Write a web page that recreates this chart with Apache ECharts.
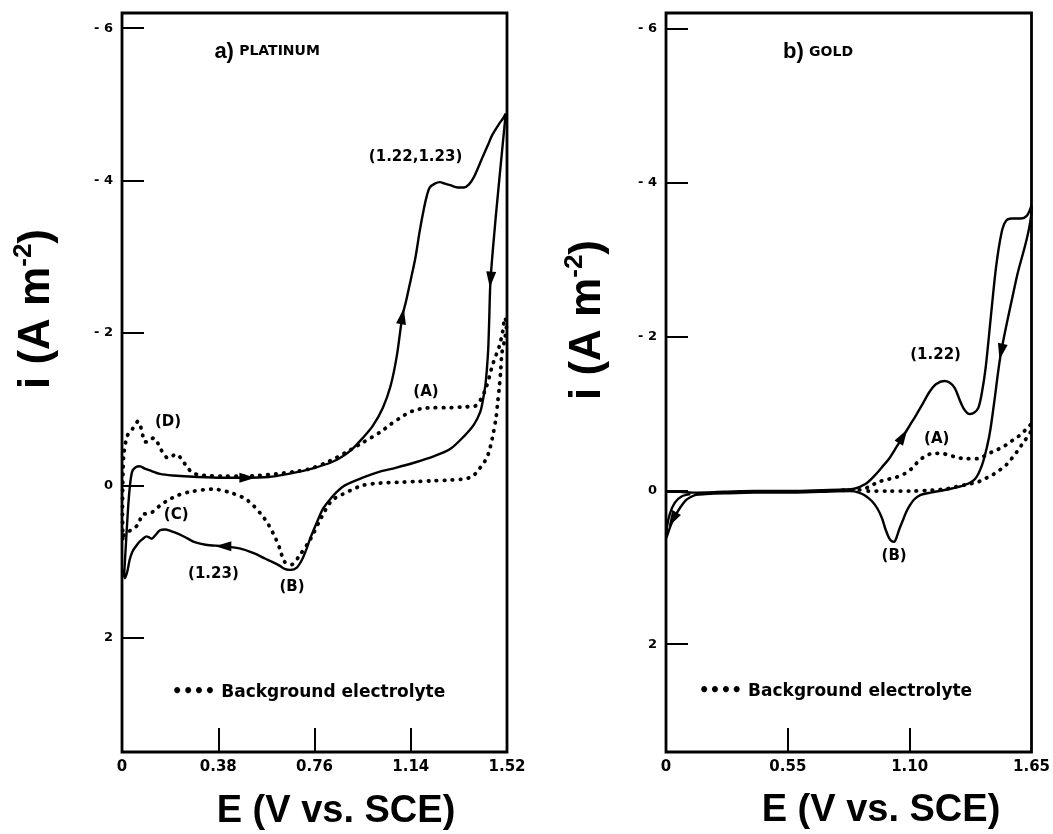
<!DOCTYPE html>
<html>
<head>
<meta charset="utf-8">
<script src="https://cdn.jsdelivr.net/npm/echarts@6/dist/echarts.min.js"></script>
<style>html,body{margin:0;background:#fff}#main{width:1053px;height:834px}</style>
</head>
<body>
<div id="main"></div>
<script>
// a) platinum, [E (V vs SCE), i (A m-2)]
var ptSolid = [
  [0.008,1.20],[0.015,0.80],[0.022,0.40],[0.030,0.05],[0.040,-0.18],[0.055,-0.24],[0.070,-0.25],[0.090,-0.22],
  [0.115,-0.19],[0.150,-0.15],[0.200,-0.13],[0.300,-0.11],[0.400,-0.10],[0.495,-0.10],[0.580,-0.11],[0.640,-0.14],
  [0.700,-0.18],[0.750,-0.22],[0.825,-0.30],[0.870,-0.38],[0.910,-0.48],[0.950,-0.62],[0.990,-0.78],[1.030,-1.02],
  [1.060,-1.30],[1.085,-1.70],[1.107,-2.22],[1.123,-2.44],[1.140,-2.70],[1.158,-2.98],[1.175,-3.33],[1.193,-3.65],
  [1.205,-3.82],[1.215,-3.91],[1.235,-3.96],[1.255,-3.98],[1.275,-3.96],[1.296,-3.94],[1.325,-3.91],[1.350,-3.91],
  [1.370,-3.95],[1.390,-4.05],[1.420,-4.28],[1.445,-4.47],[1.462,-4.60],[1.490,-4.75],[1.505,-4.82],[1.515,-4.88],
  [1.495,-4.20],[1.475,-3.50],[1.455,-2.70],[1.450,-2.20],[1.446,-1.80],[1.440,-1.50],[1.434,-1.30],[1.425,-1.12],
  [1.414,-0.96],[1.390,-0.80],[1.352,-0.65],[1.297,-0.48],[1.230,-0.38],[1.156,-0.30],[1.080,-0.23],[1.018,-0.18],
  [0.950,-0.10],[0.880,0.00],[0.850,0.08],[0.825,0.17],[0.795,0.30],[0.770,0.48],[0.745,0.68],[0.729,0.83],
  [0.710,0.98],[0.690,1.08],[0.667,1.11],[0.645,1.10],[0.620,1.05],[0.590,1.00],[0.564,0.96],[0.520,0.89],
  [0.468,0.83],[0.400,0.80],[0.330,0.78],[0.290,0.75],[0.260,0.70],[0.225,0.64],[0.193,0.60],[0.170,0.58],
  [0.150,0.59],[0.130,0.66],[0.117,0.70],[0.105,0.68],[0.097,0.67],[0.083,0.70],[0.069,0.74],[0.055,0.80],
  [0.041,0.87],[0.030,0.98],[0.021,1.13],[0.011,1.22],[0.005,1.10]
];
var ptBackground = [
  [0.003,0.70],[0.002,0.30],[0.004,-0.20],[0.008,-0.43],[0.021,-0.65],[0.041,-0.74],[0.055,-0.80],[0.062,-0.84],
  [0.070,-0.80],[0.078,-0.72],[0.090,-0.57],[0.100,-0.57],[0.110,-0.60],[0.125,-0.62],[0.131,-0.61],[0.142,-0.55],
  [0.152,-0.48],[0.168,-0.40],[0.180,-0.36],[0.196,-0.38],[0.214,-0.41],[0.234,-0.35],[0.255,-0.25],[0.276,-0.17],
  [0.300,-0.14],[0.330,-0.13],[0.400,-0.12],[0.469,-0.12],[0.540,-0.13],[0.607,-0.15],[0.680,-0.18],[0.745,-0.22],
  [0.820,-0.32],[0.883,-0.43],[0.950,-0.56],[1.020,-0.70],[1.060,-0.80],[1.100,-0.89],[1.130,-0.95],[1.159,-0.99],
  [1.190,-1.01],[1.228,-1.02],[1.297,-1.02],[1.350,-1.03],[1.393,-1.04],[1.415,-1.12],[1.435,-1.26],[1.450,-1.42],
  [1.462,-1.57],[1.478,-1.72],[1.490,-1.83],[1.503,-2.02],[1.512,-2.20],
  [1.518,-2.10],[1.510,-1.90],[1.500,-1.74],[1.495,-1.50],[1.490,-1.30],[1.483,-1.08],[1.476,-0.87],[1.462,-0.62],
  [1.448,-0.43],[1.435,-0.33],[1.420,-0.26],[1.400,-0.17],[1.380,-0.11],[1.340,-0.08],[1.297,-0.07],[1.230,-0.06],
  [1.159,-0.05],[1.090,-0.04],[1.020,-0.03],[0.950,0.00],[0.900,0.07],[0.869,0.12],[0.828,0.20],[0.786,0.43],
  [0.745,0.70],[0.703,0.91],[0.669,1.04],[0.641,1.00],[0.623,0.83],[0.607,0.70],[0.579,0.52],[0.552,0.39],
  [0.497,0.20],[0.441,0.11],[0.359,0.05],[0.276,0.08],[0.221,0.13],[0.179,0.20],[0.152,0.26],[0.110,0.37],
  [0.083,0.38],[0.062,0.52],[0.034,0.59],[0.011,0.63],[0.003,0.70]
];
// b) gold
var auSolid = [
  [0.000,0.02],[0.060,0.02],[0.120,0.03],[0.260,0.02],[0.400,0.01],[0.571,0.01],[0.700,0.00],[0.800,-0.01],
  [0.850,-0.02],[0.900,-0.08],[0.945,-0.20],[0.975,-0.30],[1.007,-0.41],[1.040,-0.56],[1.070,-0.70],[1.100,-0.84],
  [1.130,-0.98],[1.160,-1.13],[1.190,-1.28],[1.220,-1.38],[1.256,-1.42],[1.280,-1.40],[1.303,-1.33],[1.325,-1.18],
  [1.342,-1.07],[1.358,-1.01],[1.373,-0.99],[1.392,-1.01],[1.410,-1.07],[1.425,-1.25],[1.443,-1.59],[1.466,-2.24],
  [1.490,-2.90],[1.515,-3.35],[1.535,-3.50],[1.560,-3.53],[1.600,-3.53],[1.630,-3.57],[1.650,-3.70],
  [1.650,-3.65],[1.582,-2.75],[1.513,-1.80],[1.482,-1.15],[1.465,-0.80],[1.451,-0.59],[1.427,-0.33],[1.396,-0.15],
  [1.350,-0.07],[1.270,-0.01],[1.194,0.03],[1.150,0.06],[1.120,0.12],[1.100,0.20],[1.085,0.28],[1.068,0.40],
  [1.054,0.50],[1.040,0.62],[1.030,0.67],[1.018,0.66],[1.007,0.62],[0.990,0.50],[0.976,0.37],[0.955,0.24],
  [0.929,0.14],[0.900,0.07],[0.870,0.03],[0.836,0.01],[0.700,0.02],[0.571,0.03],[0.400,0.03],[0.260,0.04],
  [0.180,0.05],[0.135,0.06],[0.110,0.09],[0.089,0.13],[0.065,0.22],[0.042,0.33],[0.025,0.43],[0.011,0.54],
  [0.002,0.62],[0.004,0.48],[0.018,0.30],[0.040,0.16],[0.070,0.08],[0.110,0.05]
];
var auBackground = [
  [0.800,0.00],[0.850,0.00],[0.883,-0.01],[0.920,-0.05],[0.960,-0.11],[1.000,-0.14],[1.040,-0.17],[1.080,-0.22],
  [1.116,-0.30],[1.140,-0.38],[1.163,-0.43],[1.190,-0.47],[1.210,-0.48],[1.240,-0.48],[1.273,-0.46],[1.310,-0.43],
  [1.350,-0.41],[1.410,-0.41],[1.440,-0.45],[1.474,-0.50],[1.505,-0.54],[1.536,-0.59],[1.570,-0.66],[1.600,-0.72],
  [1.625,-0.79],[1.645,-0.85],
  [1.645,-0.76],[1.615,-0.63],[1.584,-0.50],[1.560,-0.41],[1.536,-0.33],[1.505,-0.26],[1.474,-0.20],[1.440,-0.15],
  [1.410,-0.11],[1.350,-0.07],[1.300,-0.04],[1.270,-0.02],[1.200,0.00],[1.100,0.01],[1.000,0.01],[0.900,0.01]
];

var ptTicksX = [0, 0.38, 0.76, 1.14, 1.52];
var auTicksX = [0, 0.55, 1.10, 1.65];
var ticksY = [-6, -4, -2, 0, 2];

// sweep direction arrows [E, i] and their turn in degrees
var ptArrows = [[0.495,-0.10],[1.107,-2.22],[1.455,-2.70],[0.400,0.80]];
var ptArrowTurn = [-90, -10, 175, 90];
var auArrows = [[1.070,-0.70],[1.513,-1.80],[0.030,0.38]];
var auArrowTurn = [-32, 168, 150];

// annotations [text, E, i]
var ptNotes = [['(1.22,1.23)',1.159,-4.31],['(A)',1.200,-1.23],['(D)',0.182,-0.83],['(C)',0.214,0.39],['(1.23)',0.361,1.17],['(B)',0.671,1.34]];
var auNotes = [['(1.22)',1.217,-1.76],['(A)',1.222,-0.67],['(B)',1.030,0.86]];
var panelTitles = [['a)','PLATINUM',0.345,-5.69],['b)','GOLD',0.506,-5.69]];
var bgLabel = '•••• Background electrolyte';
var bgLabelPos = [[0.177,2.72],[0.125,2.62]];

var ink = '#000';
var labelFont = {color: ink, fontFamily: 'DejaVu Sans', fontWeight: 'bold', fontSize: 15};

function xAxisFor(idx, ticks) {
  return {
    type: 'value', gridIndex: idx, min: 0, max: ticks[ticks.length - 1],
    axisLine: {show: false, onZero: false}, splitLine: {show: false},
    axisTick: {inside: true, length: 24, lineStyle: {color: ink, width: 2}, customValues: ticks.slice(1, -1)},
    axisLabel: Object.assign({margin: 8, customValues: ticks, formatter: function (v) {
      return v === 0 ? '0' : v.toFixed(2);
    }}, labelFont)
  };
}
function yAxisFor(idx, max) {
  return {
    type: 'value', gridIndex: idx, inverse: true, min: -6.2, max: max,
    axisLine: {show: false, onZero: false}, splitLine: {show: false},
    axisTick: {inside: true, length: 22, lineStyle: {color: ink, width: 2}, customValues: ticksY},
    axisLabel: Object.assign({margin: 9, customValues: ticksY, formatter: function (v) {
      return v < 0 ? '- ' + (-v) : String(v);
    }}, labelFont, {fontSize: 13})
  };
}
function curve(idx, data, dotted, arrows, turns) {
  var s = {
    type: 'line', xAxisIndex: idx, yAxisIndex: idx, data: data, smooth: 0.3,
    showSymbol: false, silent: true,
    lineStyle: dotted ? {color: ink, width: 3.8, type: [0.5, 7.5], cap: 'round'} : {color: ink, width: 2.4}
  };
  if (arrows) {
    s.markPoint = {
      symbol: 'triangle', symbolSize: [10, 16], silent: true,
      itemStyle: {color: ink}, label: {show: false},
      data: arrows.map(function (a, k) { return {coord: a, symbolRotate: turns[k]}; })
    };
  }
  return s;
}
function notes(idx, list, title, bgPos) {
  var data = list.map(function (n) { return {value: [n[1], n[2]], name: n[0]}; });
  data.push({value: [title[2], title[3]], name: '{p|' + title[0] + '} {c|' + title[1] + '}',
    label: {position: 'right'}});
  data.push({value: bgPos, name: bgLabel, label: {position: 'right', fontSize: 17}});
  return {
    type: 'scatter', xAxisIndex: idx, yAxisIndex: idx, symbolSize: 0, silent: true, data: data,
    itemStyle: {opacity: 1},
    label: Object.assign({show: true, position: 'inside', formatter: function (p) { return p.name; },
      rich: {
        p: {fontFamily: 'Liberation Sans', fontSize: 22, color: ink},
        c: {fontFamily: 'DejaVu Sans', fontWeight: 'bold', fontSize: 14, color: ink}
      }}, labelFont)
  };
}

var titleFont = {fontFamily: 'Liberation Sans', fontWeight: 'bold', fontSize: 38, fill: ink};
function yName(x, y) {
  return {
    type: 'text', x: x, y: y, rotation: Math.PI / 2,
    style: {
      text: '{a|i (A m}{b|-2}{a|)}', textAlign: 'center', textVerticalAlign: 'middle',
      rich: {
        a: {fontFamily: 'Liberation Sans', fontWeight: 'bold', fontSize: 44, fill: ink, lineHeight: 52},
        b: {fontFamily: 'Liberation Sans', fontWeight: 'bold', fontSize: 26, fill: ink, verticalAlign: 'top', lineHeight: 52}
      }
    }
  };
}
function xName(x, y) {
  return {type: 'text', x: x, y: y,
    style: Object.assign({text: 'E (V vs. SCE)', textAlign: 'center', textVerticalAlign: 'middle'}, titleFont)};
}

var chart = echarts.init(document.getElementById('main'));
chart.setOption({
  animation: false,
  backgroundColor: '#fff',
  grid: [
    {left: 122, top: 13, width: 385, height: 739, show: true, borderColor: ink, borderWidth: 2.8},
    {left: 666, top: 13, width: 367, height: 739, show: true, borderColor: ink, borderWidth: 2.8}
  ],
  xAxis: [xAxisFor(0, ptTicksX), xAxisFor(1, auTicksX)],
  yAxis: [yAxisFor(0, 3.5), yAxisFor(1, 3.4)],
  series: [
    curve(0, ptSolid, false, ptArrows, ptArrowTurn),
    curve(0, ptBackground, true),
    curve(1, auSolid, false, auArrows, auArrowTurn),
    curve(1, auBackground, true),
    notes(0, ptNotes, panelTitles[0], bgLabelPos[0]),
    notes(1, auNotes, panelTitles[1], bgLabelPos[1])
  ],
  graphic: [yName(37, 309), yName(588, 320), xName(336, 812), xName(881, 811)]
});
</script>
</body>
</html>
